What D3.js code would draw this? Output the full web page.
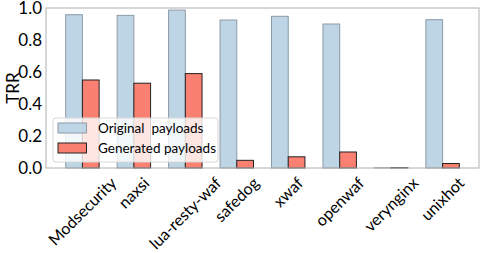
<!DOCTYPE html>
<html>
<head>
<meta charset="utf-8">
<script src="https://cdn.jsdelivr.net/npm/d3@7"></script>
<style>
  body { margin: 0; background: #fff; }
  text { font-family: Lato, "Open Sans", sans-serif; fill: #000; }
</style>
</head>
<body>
<svg id="chart" width="482" height="253"></svg>
<script>
var categories = ['Modsecurity', 'naxsi', 'lua-resty-waf', 'safedog', 'xwaf', 'openwaf', 'verynginx', 'unixhot'];
var original = [0.958, 0.954, 0.987, 0.925, 0.948, 0.900, 0.002, 0.927];
var generated = [0.55, 0.53, 0.59, 0.048, 0.07, 0.10, 0.002, 0.028];
var yTicks = [0.0, 0.2, 0.4, 0.6, 0.8, 1.0];
var seriesNames = ['Original\u00a0\u00a0payloads', 'Generated payloads'];

var svg = d3.select('#chart'),
    plotL = 46, plotR = 479, plotT = 8, plotB = 168,
    barW = 0.325,
    n = categories.length;

var pad = (n - 1 + 2 * barW) * 0.05;
var x = d3.scaleLinear().domain([-barW - pad, n - 1 + barW + pad]).range([plotL, plotR]);
var y = d3.scaleLinear().domain([0, 1]).range([plotB, plotT]);

// bars
var groups = svg.append('g').selectAll('g')
    .data(categories)
    .enter().append('g');

groups.append('rect')
    .attr('x', function(d, i) { return x(i - barW); })
    .attr('y', function(d, i) { return y(original[i]); })
    .attr('width', x(barW) - x(0))
    .attr('height', function(d, i) { return y(0) - y(original[i]); })
    .attr('fill', '#bed5e6')
    .attr('stroke', '#8d9aa4')
    .attr('stroke-width', 1);

groups.append('rect')
    .attr('x', function(d, i) { return x(i); })
    .attr('y', function(d, i) { return y(generated[i]); })
    .attr('width', x(barW) - x(0))
    .attr('height', function(d, i) { return y(0) - y(generated[i]); })
    .attr('fill', '#fa8072')
    .attr('stroke', '#222')
    .attr('stroke-width', 1);

// frame
svg.append('rect')
    .attr('x', plotL).attr('y', plotT)
    .attr('width', plotR - plotL).attr('height', plotB - plotT)
    .attr('fill', 'none')
    .attr('stroke', '#b0b0b0')
    .attr('stroke-width', 1);

// y axis
var yAxis = d3.axisLeft(y).tickValues(yTicks).tickFormat(d3.format('.1f')).tickSize(0).tickPadding(4);
var yg = svg.append('g').attr('transform', 'translate(' + plotL + ',0)').call(yAxis);
yg.select('.domain').remove();
yg.selectAll('text').style('font-size', '17px').style('font-family', 'Lato, sans-serif');

// y label
svg.append('g')
    .attr('transform', 'translate(13,' + ((plotT + plotB) / 2) + ')')
  .append('text')
    .attr('transform', 'rotate(-90)')
    .attr('text-anchor', 'middle')
    .attr('dy', '0.35em')
    .style('font-size', '17px')
    .text('TRR');

// x labels, rotated 45 and centered under the tick
var fs = 16;
svg.append('g').selectAll('text')
    .data(categories)
    .enter().append('text')
    .style('font-size', fs + 'px')
    .attr('text-anchor', 'middle')
    .attr('dy', '0.35em')
    .text(function(d) { return d; })
    .attr('transform', function(d, i) {
        var L = this.getComputedTextLength(),
            h = (L + fs * 1.1) * Math.SQRT1_2;
        return 'translate(' + x(i) + ',' + (plotB + 6 + h / 2) + ') rotate(-45)';
    });

// legend
var lg = svg.append('g').attr('transform', 'translate(53,118)');
lg.append('rect')
    .attr('width', 165).attr('height', 44)
    .attr('rx', 3)
    .attr('fill', 'rgba(255,255,255,0.8)')
    .attr('stroke', '#d8d8d8');
var fills = ['#bed5e6', '#fa8072'], strokes = ['#8d9aa4', '#222'];
seriesNames.forEach(function(name, i) {
    lg.append('rect')
        .attr('x', 5).attr('y', 5 + i * 20)
        .attr('width', 28.5).attr('height', 10)
        .attr('fill', fills[i]).attr('stroke', strokes[i]);
    lg.append('text')
        .attr('x', 45).attr('y', 10 + i * 20)
        .attr('dy', '0.35em')
        .style('font-size', '13.5px')
        .text(name);
});
</script>
</body>
</html>
